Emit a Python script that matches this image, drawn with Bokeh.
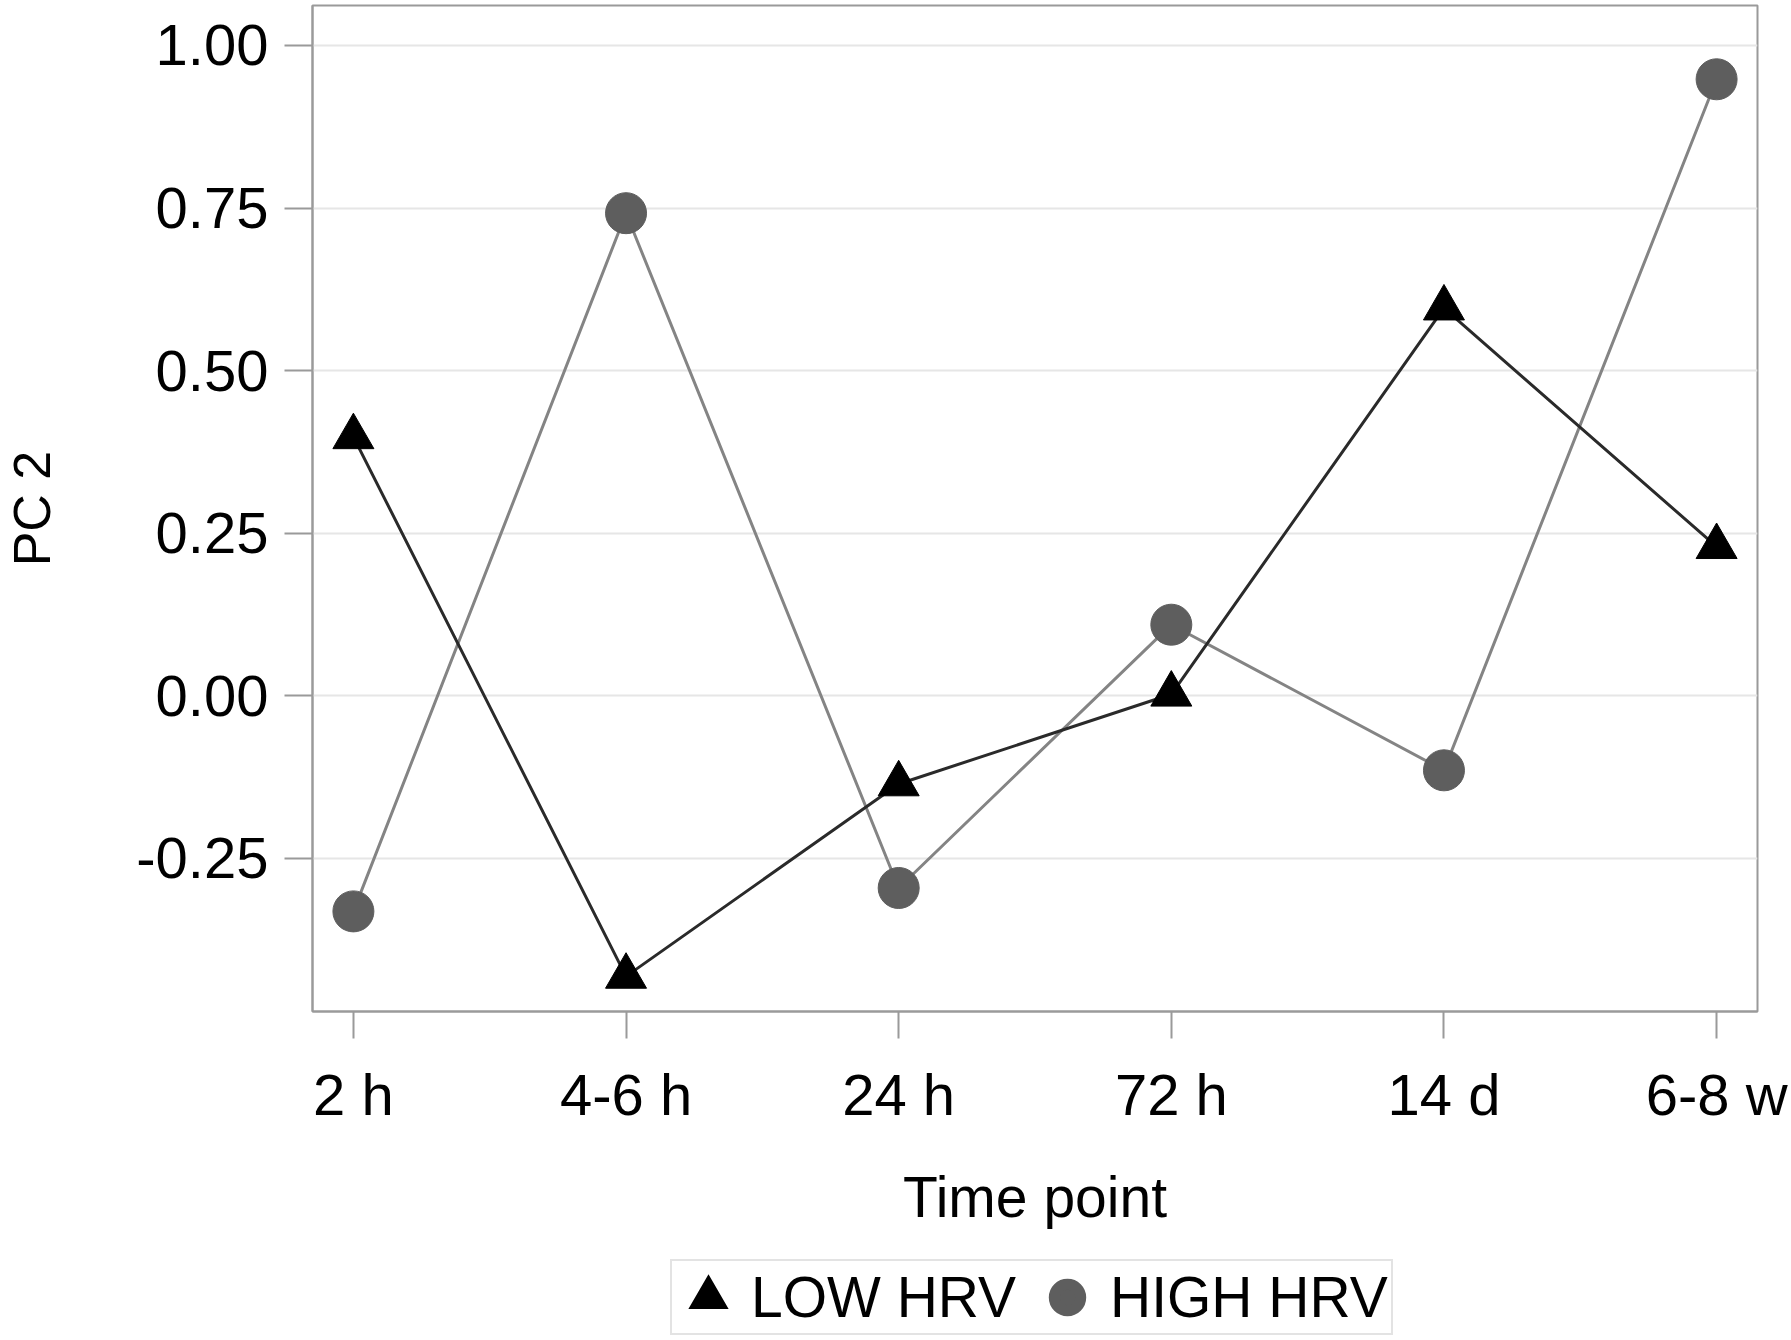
import numpy as np
from bokeh.plotting import figure
from bokeh.layouts import column
from bokeh.models import (FixedTicker, NumeralTickFormatter, Legend, LegendItem,
                          ColumnDataSource, Range1d)
from bokeh.embed import file_html
from bokeh.resources import INLINE

# ---- data -------------------------------------------------------------
time_points = ["2 h", "4-6 h", "24 h", "72 h", "14 d", "6-8 w"]
low_hrv = [0.398, -0.432, -0.136, 0.002, 0.596, 0.229]
high_hrv = [-0.332, 0.742, -0.296, 0.109, -0.115, 0.948]
y_ticks = [-0.25, 0.0, 0.25, 0.50, 0.75, 1.00]
series_names = ["LOW HRV", "HIGH HRV"]
x_label = "Time point"
y_label = "PC 2"

FONT = "Liberation Sans"
AXIS_GRAY = "#9a9a9a"
LOW_COLOR = "black"
HIGH_COLOR = "#5e5e5e"

xs = list(range(len(time_points)))
src = ColumnDataSource(dict(x=xs, low=low_hrv, high=high_hrv))

p = figure(width=1791, height=1241, output_backend="svg", toolbar_location=None,
           x_range=Range1d(-0.15, 5.15), y_range=Range1d(-0.486, 1.0615),
           min_border_left=309, min_border_right=34, min_border_top=5,
           min_border_bottom=230)

p.background_fill_color = "white"
p.border_fill_color = "white"
p.outline_line_color = AXIS_GRAY
p.outline_line_width = 2

# grid
p.xgrid.visible = False
p.ygrid.ticker = FixedTicker(ticks=y_ticks)
p.ygrid.grid_line_color = "#e6e6e6"
p.ygrid.grid_line_width = 2

# axes
p.xaxis.ticker = FixedTicker(ticks=xs)
p.xaxis.major_label_overrides = {i: t for i, t in zip(xs, time_points)}
p.yaxis.ticker = FixedTicker(ticks=y_ticks)
p.yaxis.formatter = NumeralTickFormatter(format="0.00")

for ax in (p.xaxis[0], p.yaxis[0]):
    ax.axis_line_color = AXIS_GRAY
    ax.axis_line_width = 2
    ax.major_tick_line_color = AXIS_GRAY
    ax.major_tick_line_width = 2
    ax.major_tick_in = 0
    ax.minor_tick_line_color = None
    ax.major_label_text_font = FONT
    ax.major_label_text_font_size = "58px"
    ax.major_label_text_color = "black"
    ax.axis_label_text_font = FONT
    ax.axis_label_text_font_style = "normal"
    ax.axis_label_text_color = "black"

p.xaxis.major_tick_out = 27
p.xaxis.major_label_standoff = 23
p.xaxis.axis_label = x_label
p.xaxis.axis_label_text_font_size = "57px"
p.xaxis.axis_label_standoff = 35

p.yaxis.major_tick_out = 28
p.yaxis.major_label_standoff = 16
p.yaxis.axis_label = y_label
p.yaxis.axis_label_text_font_size = "52px"
p.yaxis.axis_label_standoff = 72

# series
p.line("x", "high", source=src, line_color="#848484", line_width=3)
p.line("x", "low", source=src, line_color="#2a2a2a", line_width=3)
p.scatter("x", "high", source=src, marker="circle", size=41,
          fill_color=HIGH_COLOR, line_color=HIGH_COLOR, line_width=1)
p.scatter("x", "low", source=src, marker="triangle", size=41,
          fill_color=LOW_COLOR, line_color=LOW_COLOR, line_width=1)

# ---- legend strip below the chart ------------------------------------
p2 = figure(width=1791, height=99, output_backend="svg", toolbar_location=None,
            x_axis_type=None, y_axis_type=None,
            x_range=Range1d(0, 1), y_range=Range1d(0, 1),
            min_border_left=0, min_border_right=0, min_border_top=0,
            min_border_bottom=0)
p2.outline_line_color = None
p2.background_fill_color = "white"
p2.border_fill_color = "white"
p2.grid.visible = False

leg_src = ColumnDataSource(dict(x=np.array([np.nan]), y=np.array([np.nan])))
key_tri = p2.scatter("x", "y", source=leg_src, marker="triangle", size=10,
                     fill_color=LOW_COLOR, line_color=LOW_COLOR, line_width=8,
                     line_join="miter")
key_cir = p2.scatter("x", "y", source=leg_src, marker="circle", size=10,
                     fill_color=HIGH_COLOR, line_color=HIGH_COLOR, line_width=11)

# the legend strip's frame is aligned with the chart frame (left = 309)
legend = Legend(
    items=[LegendItem(label=series_names[0], renderers=[key_tri]),
           LegendItem(label=series_names[1], renderers=[key_cir])],
    location=(358, 5), orientation="horizontal",
    padding=3, spacing=18, label_standoff=10, margin=0,
    glyph_width=66, glyph_height=66,
    label_text_font=FONT, label_text_font_size="57px", label_text_color="black",
    border_line_color="#c8c8c8", border_line_width=2,
    background_fill_color="white", background_fill_alpha=1.0,
)
p2.add_layout(legend)

layout = column(p, p2, spacing=0)
open("out.html", "w").write(file_html(layout, INLINE))
